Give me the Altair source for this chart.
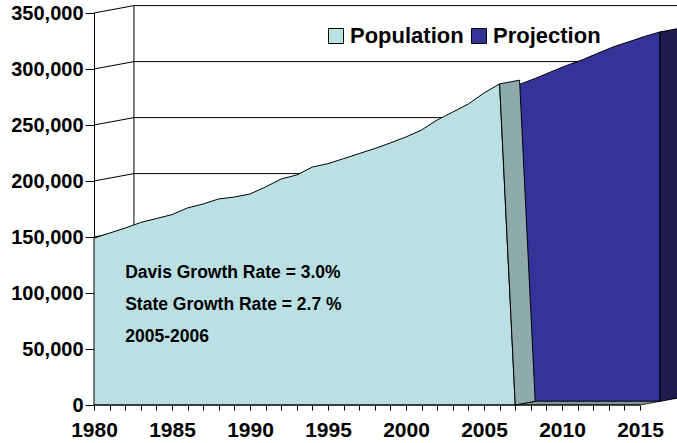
import altair as alt
import pandas as pd

# ---------------- data ----------------
pop_years = list(range(1980, 2007))
pop_values = [149000, 153500, 158000, 163000, 166500, 170000, 176000, 179500,
              184000, 185700, 188400, 194700, 201800, 205400, 212500, 215500,
              220000, 224500, 229000, 234000, 239300, 245600, 254500, 261600,
              268800, 278600, 286700]

proj_years = list(range(2006, 2016))
proj_values = [283000, 288300, 294100, 299800, 304800, 310700, 316400,
               321000, 325700, 329800]

series_names = ["Population", "Projection"]
series_colors = ["#BBE0E3", "#333399"]
side_grey = "#8FAAAD"
side_navy = "#1E1B4F"
floor_col = "#7F9597"

y_ticks = [0, 50000, 100000, 150000, 200000, 250000, 300000, 350000]
x_tick_years = list(range(1980, 2016))

notes = ["Davis Growth Rate = 3.0%", "State Growth Rate = 2.7 %", "2005-2006"]
note_x = [1982, 1982, 1982]
note_y = [113400, 84800, 56250]

# 3-D depth of one series row, in data units (years, persons)
DX = 1.28
DV = 3300
X_MIN, X_MAX = 1980, 2017.37
Y_MAX = 350000
FONT = "Liberation Sans"

xs = alt.Scale(domain=[X_MIN, X_MAX], nice=False, zero=False)
ys = alt.Scale(domain=[0, Y_MAX], nice=False, zero=True)

x_axis = alt.Axis(values=x_tick_years, format="d", title=None,
                  labelExpr="datum.value % 5 === 0 ? datum.label : ''",
                  tickSize=5, labelPadding=9, labelFontSize=21,
                  labelOverlap=False, labelFlush=False, labelBound=False,
                  domain=False, grid=False)
y_axis = alt.Axis(values=y_ticks, format=",.0f", title=None, tickSize=9,
                  labelPadding=2, labelFontSize=20, grid=False,
                  domain=True, labelOverlap=False, labelFlush=False,
                  labelBound=False)


def X(f):
    return alt.X(f, scale=xs, axis=x_axis, title=None)


def Y(f):
    return alt.Y(f, scale=ys, axis=y_axis, title=None)


def poly_to_area(pts):
    """convex polygon -> rows (x, top, bottom) for an area mark"""
    xs_ = sorted(set(p[0] for p in pts))
    rows = []
    n = len(pts)
    for x in xs_:
        vals = []
        for i in range(n):
            (x1, y1), (x2, y2) = pts[i], pts[(i + 1) % n]
            if min(x1, x2) - 1e-9 <= x <= max(x1, x2) + 1e-9:
                if abs(x2 - x1) < 1e-12:
                    vals += [y1, y2]
                else:
                    vals.append(y1 + (y2 - y1) * (x - x1) / (x2 - x1))
        rows.append({"x": x, "top": max(vals), "bottom": min(vals)})
    return pd.DataFrame(rows)


# ---------------- back / side walls ----------------
wall_rows = []
for v in y_ticks[1:]:
    wall_rows.append({"x": X_MIN, "x2": X_MIN + 2 * DX, "y": v, "y2": v + 2 * DV})
    wall_rows.append({"x": X_MIN + 2 * DX, "x2": X_MAX, "y": v + 2 * DV, "y2": v + 2 * DV})
wall_rows.append({"x": X_MIN + 2 * DX, "x2": X_MIN + 2 * DX, "y": 2 * DV, "y2": Y_MAX + 2 * DV})
walls = alt.Chart(pd.DataFrame(wall_rows)).mark_rule(color="black", strokeWidth=1).encode(
    x=X("x:Q"), x2="x2:Q", y=Y("y:Q"), y2="y2:Q")

color_scale = alt.Scale(domain=series_names, range=series_colors)
legend = alt.Legend(orient="none", legendX=231, legendY=12, direction="horizontal",
                    title=None, symbolType="square", symbolSize=225,
                    symbolStrokeColor="black", symbolStrokeWidth=1, symbolOpacity=1,
                    labelFont=FONT, labelFontWeight="bold", labelFontSize=22,
                    labelColor="black", labelOffset=3, columnPadding=4, padding=0)

# ---------------- population (front row) ----------------
pop_df = pd.DataFrame({"x": pop_years + [pop_years[-1] + 1],
                       "v": pop_values + [0],
                       "s": "Population"})
pop_area = alt.Chart(pop_df).mark_area(stroke="black", strokeWidth=1, opacity=1).encode(
    x=X("x:Q"), y=Y("v:Q"),
    color=alt.Color("s:N", scale=color_scale, legend=legend))

# ---------------- projection (back row) ----------------
proj_df = pd.DataFrame({"x": [y + DX for y in proj_years],
                        "v": [v + DV for v in proj_values],
                        "b": DV, "s": "Projection"})
proj_area = alt.Chart(proj_df).mark_area(stroke="black", strokeWidth=1, opacity=1).encode(
    x=X("x:Q"), y=Y("v:Q"), y2="b:Q",
    color=alt.Color("s:N", scale=color_scale, legend=legend))

# floor strip under projection
p_end = pop_years[-1] + 1
floor_df = poly_to_area([(p_end, 0), (proj_years[-1], 0),
                         (proj_years[-1] + DX, DV), (p_end + DX, DV)])
floor = alt.Chart(floor_df).mark_area(fill=floor_col, stroke="black", strokeWidth=0.8).encode(
    x=X("x:Q"), y=Y("top:Q"), y2="bottom:Q")

# side face of population
grey_df = poly_to_area([(pop_years[-1], pop_values[-1]),
                        (pop_years[-1] + DX, pop_values[-1] + DV),
                        (p_end + DX, DV), (p_end, 0)])
grey = alt.Chart(grey_df).mark_area(fill=side_grey, stroke="black", strokeWidth=1).encode(
    x=X("x:Q"), y=Y("top:Q"), y2="bottom:Q")

# side face of projection
navy_df = poly_to_area([(proj_years[-1] + DX, proj_values[-1] + DV),
                        (proj_years[-1] + 2 * DX, proj_values[-1] + 2 * DV),
                        (proj_years[-1] + 2 * DX, 2 * DV),
                        (proj_years[-1] + DX, DV)])
navy = alt.Chart(navy_df).mark_area(fill=side_navy, stroke="black", strokeWidth=1).encode(
    x=X("x:Q"), y=Y("top:Q"), y2="bottom:Q")

# ---------------- x axis baseline ----------------
axis_df = pd.DataFrame({"x": [X_MIN], "x2": [proj_years[-1]], "y": [0]})
x_line = alt.Chart(axis_df).mark_rule(color="black", strokeWidth=1).encode(
    x=X("x:Q"), x2="x2:Q", y=Y("y:Q"))

notes_df = pd.DataFrame({"t": notes, "x": note_x, "y": note_y})
texts = alt.Chart(notes_df).mark_text(align="left", baseline="alphabetic", font=FONT,
                                      fontWeight="bold", fontSize=17.5, color="black").encode(
    x=X("x:Q"), y=Y("y:Q"), text="t:N")

chart = alt.layer(walls, pop_area, proj_area, floor, grey, navy, x_line, texts).properties(
    width=583, height=392, autosize="none",
    padding={"left": 94, "top": 13, "right": 0, "bottom": 38},
    background="white"
).configure_view(stroke=None).configure_axis(
    labelFont=FONT, labelFontWeight="bold", labelColor="black",
    tickColor="black", domainColor="black", tickWidth=1, domainWidth=1)

chart.save("out.html", embed_options={"renderer": "svg", "actions": False})
